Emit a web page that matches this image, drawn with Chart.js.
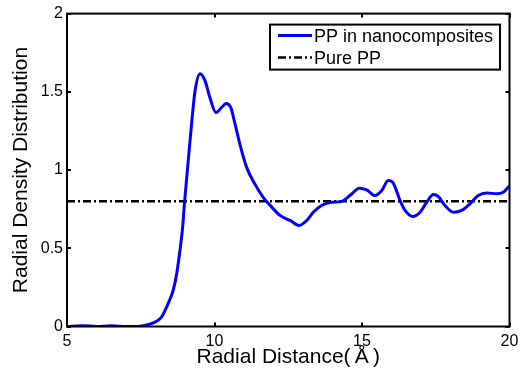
<!DOCTYPE html>
<html>
<head>
<meta charset="utf-8">
<script src="https://cdn.jsdelivr.net/npm/chart.js@4.4.1/dist/chart.umd.min.js"></script>
<style>
  html, body { margin: 0; padding: 0; background: #ffffff; }
  #wrap { width: 524px; height: 371px; position: relative; }
</style>
</head>
<body>
<div id="wrap"><canvas id="c" width="524" height="371"></canvas></div>
<script>
// ---- data ----
const radialDistance = [5.0, 5.5, 6.0, 6.5, 7.0, 7.47, 7.8, 8.05, 8.2, 8.38, 8.6, 8.72, 8.83, 8.92, 8.98,
  9.11, 9.23, 9.34, 9.51, 9.68, 9.85, 10.05, 10.24, 10.39, 10.55, 10.69, 10.86, 11.09, 11.37, 11.65, 11.94,
  12.22, 12.56, 12.87, 13.13, 13.35, 13.63, 13.97, 14.31, 14.59, 14.91, 15.16, 15.44, 15.67, 15.89, 16.04,
  16.29, 16.46, 16.72, 16.97, 17.19, 17.42, 17.59, 17.81, 18.10, 18.38, 18.66, 18.94, 19.23, 19.56, 19.79, 20.0];
const densityNanocomposite = [0.0, 0.005, 0.0, 0.004, 0.0, 0.002, 0.015, 0.035, 0.06, 0.126, 0.232, 0.339, 0.487, 0.635, 0.784,
  1.06, 1.31, 1.505, 1.615, 1.57, 1.46, 1.367, 1.40, 1.425, 1.40, 1.30, 1.166, 1.017, 0.91, 0.826, 0.763,
  0.71, 0.678, 0.646, 0.678, 0.73, 0.773, 0.794, 0.80, 0.837, 0.884, 0.873, 0.837, 0.869, 0.933, 0.922,
  0.805, 0.742, 0.703, 0.73, 0.794, 0.843, 0.83, 0.773, 0.73, 0.742, 0.784, 0.837, 0.854, 0.848, 0.858, 0.90];
const pureRange = [5, 20];
const pureDensity = [0.8, 0.8];
const xTicks = [5, 10, 15, 20];
const yTicks = [0, 0.5, 1, 1.5, 2];
const seriesLabels = ['PP in nanocomposites', 'Pure PP'];

const FONT = '"Liberation Sans", Arial, Helvetica, sans-serif';

const curveData = radialDistance.map((x, i) => ({ x: x, y: densityNanocomposite[i] }));
const pureData = pureRange.map((x, i) => ({ x: x, y: pureDensity[i] }));

const boxAndTicks = {
  id: 'boxAndTicks',
  afterDatasetsDraw(chart) {
    const { ctx, chartArea: a, scales } = chart;
    ctx.save();
    ctx.strokeStyle = '#000';
    ctx.lineWidth = 2;
    ctx.strokeRect(a.left, a.top, a.right - a.left, a.bottom - a.top);
    const tl = 4;
    ctx.beginPath();
    xTicks.forEach(v => {
      const px = Math.round(scales.x.getPixelForValue(v));
      ctx.moveTo(px, a.bottom); ctx.lineTo(px, a.bottom - tl);
      ctx.moveTo(px, a.top); ctx.lineTo(px, a.top + tl);
    });
    yTicks.forEach(v => {
      const py = Math.round(scales.y.getPixelForValue(v));
      ctx.moveTo(a.left, py); ctx.lineTo(a.left + tl, py);
      ctx.moveTo(a.right, py); ctx.lineTo(a.right - tl, py);
    });
    ctx.stroke();

    // legend box
    const lx = a.left + 203, ly = a.top + 11, lw = 230, lh = 45;
    ctx.fillStyle = '#fff';
    ctx.fillRect(lx, ly, lw, lh);
    ctx.lineWidth = 2;
    ctx.strokeRect(lx, ly, lw, lh);
    const ds = chart.data.datasets;
    const rows = [ly + 11, ly + 33];
    ds.forEach((d, i) => {
      ctx.save();
      ctx.strokeStyle = d.borderColor;
      ctx.lineWidth = d.borderWidth;
      ctx.setLineDash(d.borderDash || []);
      ctx.beginPath();
      ctx.moveTo(lx + 8, rows[i]);
      ctx.lineTo(lx + 42, rows[i]);
      ctx.stroke();
      ctx.restore();
      ctx.fillStyle = '#000';
      ctx.font = '18px ' + FONT;
      ctx.textBaseline = 'middle';
      ctx.textAlign = 'left';
      ctx.fillText(d.label, lx + 44, rows[i] + 1);
    });
    ctx.restore();
  }
};

new Chart(document.getElementById('c'), {
  type: 'line',
  data: {
    datasets: [
      {
        label: seriesLabels[0],
        data: curveData,
        borderColor: '#0000ff',
        borderWidth: 3,
        pointRadius: 0,
        cubicInterpolationMode: 'monotone',
        fill: false
      },
      {
        label: seriesLabels[1],
        data: pureData,
        borderColor: '#000000',
        borderWidth: 2.5,
        borderDash: [8, 3, 2, 3],
        pointRadius: 0,
        fill: false
      }
    ]
  },
  options: {
    responsive: false,
    animation: false,
    devicePixelRatio: 1,
    layout: { padding: { left: 0, right: 14.5, top: 12, bottom: 0 } },
    plugins: { legend: { display: false }, tooltip: { enabled: false } },
    scales: {
      x: {
        type: 'linear',
        min: 5, max: 20,
        afterBuildTicks: s => { s.ticks = xTicks.map(v => ({ value: v })); },
        afterFit: s => { s.height = 44.5; },
        grid: { display: false, drawTicks: false },
        border: { display: false },
        ticks: { color: '#000', font: { family: FONT, size: 16 }, padding: 5, maxRotation: 0,
                 callback: v => String(v) },
        title: { display: true, text: 'Radial Distance(\u2009Å\u2009)', color: '#000',
                 font: { family: FONT, size: 21 }, padding: { top: 0, bottom: 1 } }
      },
      y: {
        min: 0, max: 2,
        afterBuildTicks: s => { s.ticks = yTicks.map(v => ({ value: v })); },
        afterFit: s => { s.width = 67; },
        grid: { display: false, drawTicks: false },
        border: { display: false },
        ticks: { color: '#000', font: { family: FONT, size: 16 }, padding: 4,
                 callback: v => String(v) },
        title: { display: true, text: 'Radial Density Distribution', color: '#000',
                 font: { family: FONT, size: 21 }, padding: { top: 9, bottom: 0 } }
      }
    }
  },
  plugins: [boxAndTicks]
});
</script>
</body>
</html>
